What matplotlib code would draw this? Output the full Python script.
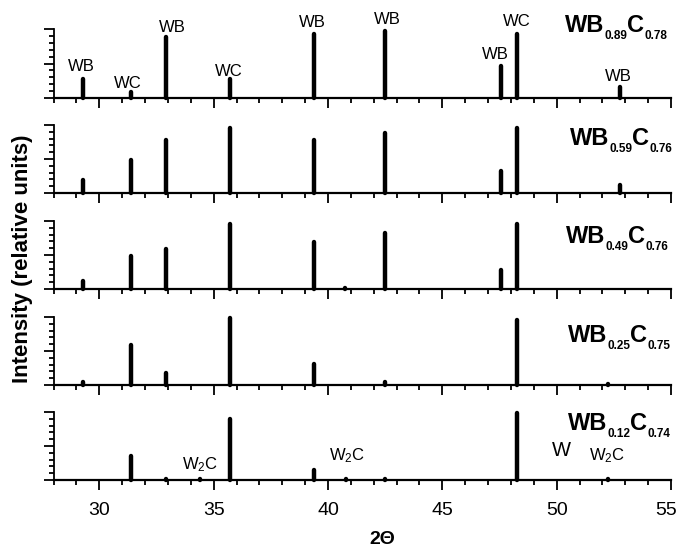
import matplotlib
matplotlib.use('Agg')
import matplotlib.pyplot as plt
from matplotlib.ticker import MultipleLocator
from matplotlib.transforms import ScaledTranslation

plt.rcParams['font.family'] = ['Liberation Sans', 'DejaVu Sans']
plt.rcParams['mathtext.fontset'] = 'custom'
plt.rcParams['mathtext.rm'] = 'Liberation Sans'
plt.rcParams['mathtext.bf'] = 'Liberation Sans:bold'
plt.rcParams['mathtext.it'] = 'Liberation Sans:italic'

# peak positions (2 theta) and relative intensities, one set per sample
pos1 = [29.3, 31.4, 32.9, 35.7, 39.4, 42.5, 47.55, 48.25, 52.75]
int1 = [0.27, 0.09, 0.88, 0.28, 0.93, 0.97, 0.47, 0.93, 0.16]

pos2 = [29.3, 31.4, 32.9, 35.7, 39.4, 42.5, 47.55, 48.25, 52.75]
int2 = [0.19, 0.49, 0.78, 0.95, 0.78, 0.88, 0.32, 0.95, 0.12]

pos3 = [29.3, 31.4, 32.9, 35.7, 39.4, 40.75, 42.5, 47.55, 48.25]
int3 = [0.12, 0.49, 0.59, 0.95, 0.69, 0.015, 0.82, 0.28, 0.95]

pos4 = [29.3, 31.4, 32.9, 35.7, 39.4, 42.5, 48.25, 52.25]
int4 = [0.04, 0.59, 0.18, 0.98, 0.31, 0.05, 0.95, 0.015]

pos5 = [31.4, 32.9, 34.4, 35.7, 39.4, 40.8, 42.5, 48.25, 52.25]
int5 = [0.35, 0.015, 0.015, 0.9, 0.15, 0.02, 0.015, 0.98, 0.01]

samples = [('0.89', '0.78'), ('0.59', '0.76'), ('0.49', '0.76'),
           ('0.25', '0.75'), ('0.12', '0.74')]

# phase labels
lab1 = ['WB', 'WC', 'WB', 'WC', 'WB', 'WB', 'WB', 'WC', 'WB']
lab1_x = [29.23, 31.23, 33.2, 35.65, 39.3, 42.6, 47.33, 48.25, 52.7]
lab1_y = [0.39, 0.145, 0.957, 0.32, 1.03, 1.07, 0.565, 1.04, 0.246]

lab5 = ['W$_2$C', 'W$_2$C', 'W', 'W$_2$C']
lab5_x = [34.4, 40.83, 50.19, 52.2]
lab5_y = [0.15, 0.29, 0.35, 0.29]
lab5_size = [12, 12, 14.5, 12]

W, H = 678, 549
fig = plt.figure(figsize=(W / 100, H / 100), dpi=100)

# panel baselines / tops in pixels
base_px = [98, 193, 289, 385, 480]
top_px = [29, 125, 221, 317, 412]
# formula placement (right end, baseline) in pixels
form_px = [(667, 32), (672, 145), (668, 243), (670, 342), (670, 430)]

positions = [pos1, pos2, pos3, pos4, pos5]
intens = [int1, int2, int3, int4, int5]

left = 53.6 / W
width = (671 - 53.6) / W

axes = []
for i in range(5):
    ax = fig.add_axes([left, 1 - base_px[i] / H, width, (base_px[i] - top_px[i]) / H])
    ax.vlines(positions[i], 0, intens[i], color='black', linewidth=3.2,
              capstyle='round', clip_on=False)
    ax.set_xlim(28, 55)
    ax.set_ylim(0, 1)
    ax.spines['top'].set_visible(False)
    ax.spines['right'].set_visible(False)
    ax.spines['bottom'].set_linewidth(1.6)
    ax.spines['left'].set_linewidth(1.3)
    ax.xaxis.set_major_locator(MultipleLocator(5))
    ax.xaxis.set_minor_locator(MultipleLocator(1))
    ax.yaxis.set_major_locator(MultipleLocator(0.5))
    ax.yaxis.set_minor_locator(MultipleLocator(0.1))
    ax.tick_params(which='major', direction='out', length=7, width=1.3, labelsize=14, pad=9)
    ax.tick_params(which='minor', direction='out', length=3.5, width=1.3)
    ax.tick_params(labelleft=False, labelbottom=(i == 4))
    axes.append(ax)

for s, x, y in zip(lab1, lab1_x, lab1_y):
    axes[0].text(x, y, s, ha='center', va='baseline', fontsize=12)

for s, x, y, fs in zip(lab5, lab5_x, lab5_y, lab5_size):
    axes[4].text(x, y, s, ha='center', va='baseline', fontsize=fs)

fig.canvas.draw()
renderer = fig.canvas.get_renderer()

# nudge the last tick label ("55") so it stays inside the picture
for tick in axes[4].xaxis.get_major_ticks():
    if tick.get_loc() is not None and abs(tick.get_loc() - 55) < 1e-6:
        tick.label1.set_transform(tick.label1.get_transform() +
                                  ScaledTranslation(-5 / 100, 0, fig.dpi_scale_trans))


def formula(xr, yb, a, b):
    parts = [('WB', 17, 0), (a, 8.5, 7), ('C', 17, 0), (b, 8.5, 7)]
    x = xr
    for s, fs, dy in reversed(parts):
        t = fig.text(x / W, 1 - (yb + dy) / H, s, ha='right', va='baseline',
                     fontsize=fs, fontweight='bold')
        x -= t.get_window_extent(renderer).width


for (xr, yb), (a, b) in zip(form_px, samples):
    formula(xr, yb, a, b)

fig.text(23 / W, 1 - 259 / H, 'Intensity (relative units)', rotation=90,
         ha='center', va='center', fontsize=16, fontweight='bold')
fig.text(382 / W, 1 - 540 / H, '2\u0398', ha='center', va='center',
         fontsize=14, fontweight='bold')

fig.savefig('out.png', dpi=100)
